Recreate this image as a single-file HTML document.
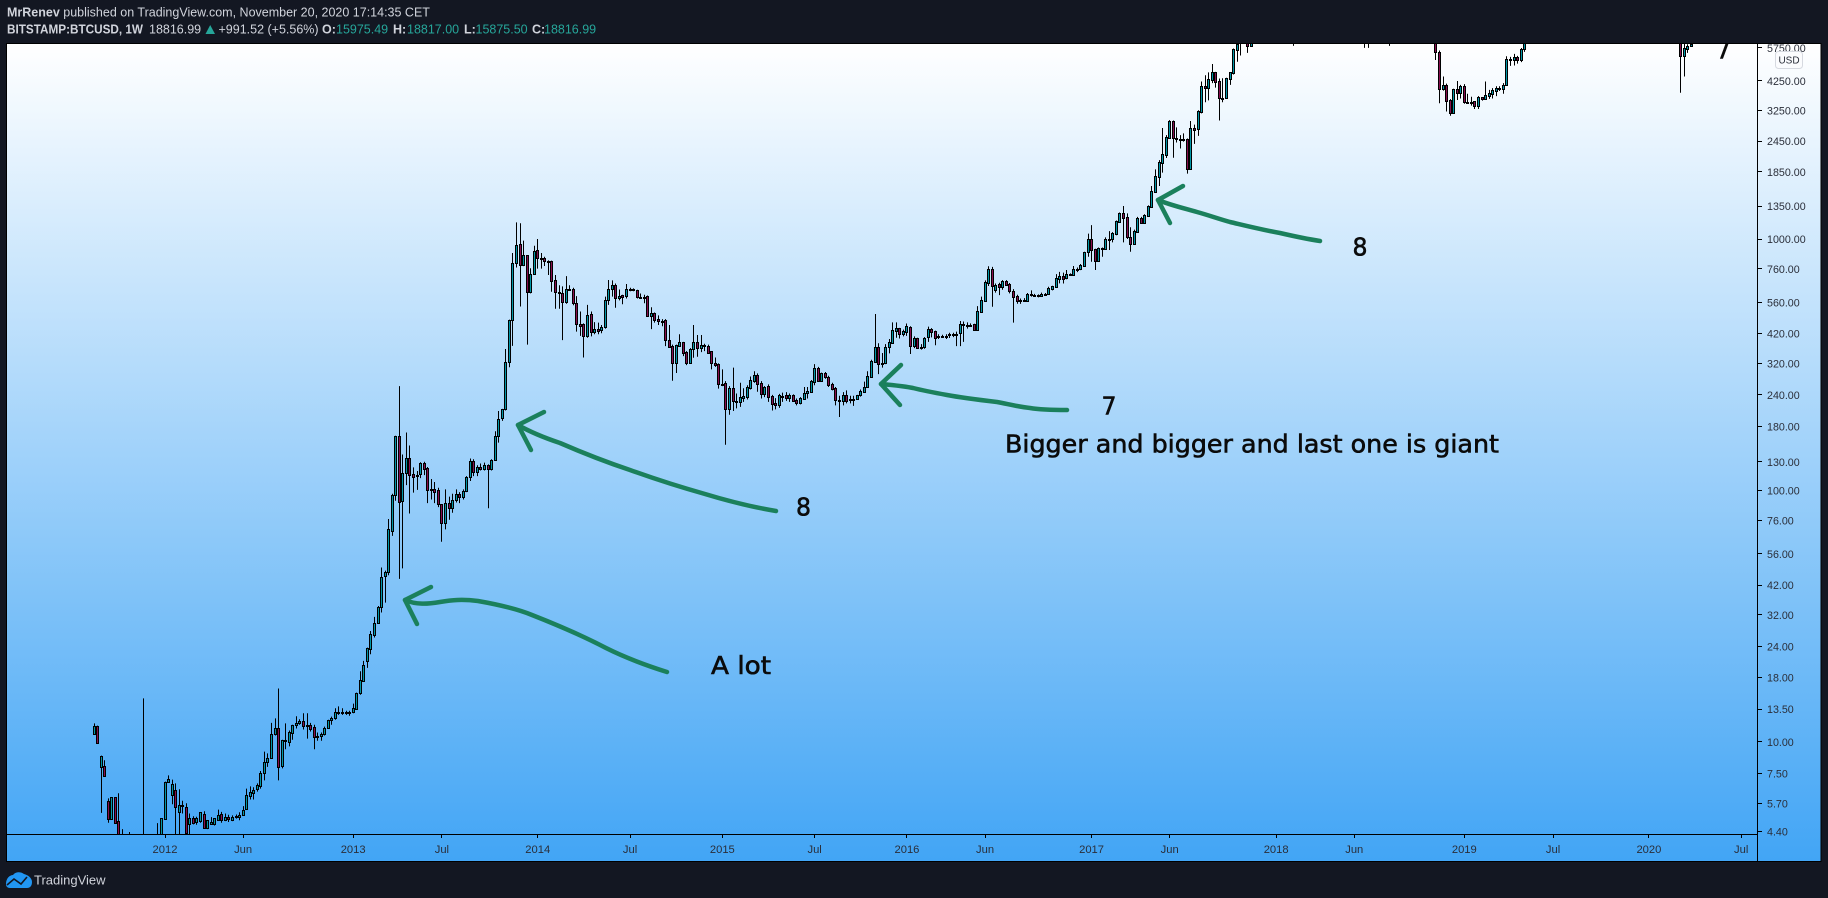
<!DOCTYPE html>
<html lang="en">
<head>
<meta charset="utf-8">
<title>BITSTAMP:BTCUSD 1W chart by MrRenev</title>
<style>
html,body{margin:0;padding:0;background:#131722;width:1828px;height:898px;overflow:hidden}
svg{display:block}
.hd{font:12.5px "Liberation Sans",sans-serif;fill:#d1d4dc}
.b{font-weight:bold}
.val{fill:#26a69a}
.yl{font:10.7px "Liberation Sans",sans-serif;fill:#2a2e39}
.xl{font:11.2px "Liberation Sans",sans-serif;fill:#2a2e39;text-anchor:middle}
.note{font-family:"DejaVu Sans","Liberation Sans",sans-serif;fill:#0b0b0b;stroke:#0b0b0b;stroke-width:.6px}
.arrow{fill:none;stroke:#1b805c;stroke-width:4.5;stroke-linecap:round;stroke-linejoin:round}
</style>
</head>
<body>
<svg id="chart" xmlns="http://www.w3.org/2000/svg" width="1828" height="898" viewBox="0 0 1828 898">
  <defs>
    <linearGradient id="bg" gradientUnits="userSpaceOnUse" x1="0" y1="43" x2="0" y2="861">
      <stop offset="0" stop-color="#ffffff"/>
      <stop offset="1" stop-color="#42a5f5"/>
    </linearGradient>
    <clipPath id="plotClip"><rect x="7" y="44" width="1750" height="790"/></clipPath>
  </defs>

  <rect x="0" y="0" width="1828" height="898" fill="#131722"/>
  <rect x="6.5" y="43.5" width="1814.5" height="818" fill="url(#bg)" stroke="#000" stroke-width="1"/>

  <g>
    <text class="hd" x="7" y="16.5"><tspan class="b">MrRenev</tspan> published on TradingView.com, November 20, 2020 17:14:35 CET</text>
    <text class="hd b" x="7" y="33.5" textLength="136" lengthAdjust="spacingAndGlyphs">BITSTAMP:BTCUSD, 1W</text>
    <text class="hd" x="149" y="33.5">18816.99</text>
    <polygon points="205.5,34 215,34 210.2,25" fill="#26a69a"/>
    <text class="hd" x="218.5" y="33.5">+991.52 (+5.56%)</text>
    <text class="hd b" x="322" y="33.5">O:</text>
    <text class="hd val" x="336" y="33.5">15975.49</text>
    <text class="hd b" x="393" y="33.5">H:</text>
    <text class="hd val" x="407" y="33.5">18817.00</text>
    <text class="hd b" x="464" y="33.5">L:</text>
    <text class="hd val" x="475.5" y="33.5">15875.50</text>
    <text class="hd b" x="532" y="33.5">C:</text>
    <text class="hd val" x="544" y="33.5">18816.99</text>
  </g>

  <g id="candles" clip-path="url(#plotClip)"></g>

  <g id="yAxis"></g>
  <g id="xAxis"></g>
  <line x1="1757.5" y1="44" x2="1757.5" y2="861" stroke="#000"/>
  <line x1="7" y1="834.5" x2="1757" y2="834.5" stroke="#000"/>

  <g>
    <rect x="1775.5" y="51.5" width="27" height="17" rx="3" fill="#fbfcfe" stroke="#d6d9e0"/>
    <text x="1789" y="63.5" text-anchor="middle" style="font:10px 'Liberation Sans',sans-serif;fill:#2a2e39">USD</text>
  </g>

  <g clip-path="url(#plotClip)">
    <g>
      <path class="arrow" d="M405 600 C416 605 428 604 440 602 C452 600 462 599 478 601 C495 604 515 608 532 615 C560 626 585 637 606 648 C628 659 648 666 667 672"/>
      <path class="arrow" d="M431 587 L405 600 L417 624"/>
    </g>
    <g>
      <path class="arrow" d="M518 425 C532 433 545 438 560 443 C583 453 606 462 630 470 C655 479 680 487 705 494 C728 501 752 507 776 511"/>
      <path class="arrow" d="M544 412 L518 425 L531 450"/>
    </g>
    <g>
      <path class="arrow" d="M881 384 C892 385 903 386 913 388 C925 391 936 393 947 395 C963 398 980 400 997 402 C1008 404 1019 407 1030 408 C1042 410 1055 410 1067 410"/>
      <path class="arrow" d="M901 365 L881 384 L900 405"/>
    </g>
    <g>
      <path class="arrow" d="M1158 200 C1170 205 1183 208 1197 212 C1208 215 1219 219 1230 222 C1247 226 1263 230 1280 233 C1293 236 1307 239 1320 241"/>
      <path class="arrow" d="M1183 186 L1158 200 L1170 223"/>
    </g>
    <text class="note" x="711" y="674" font-size="25" textLength="60" lengthAdjust="spacingAndGlyphs">A lot</text>
    <text class="note" x="796" y="515.5" font-size="25" textLength="15" lengthAdjust="spacingAndGlyphs">8</text>
    <text class="note" x="1101.5" y="414.7" font-size="25" textLength="15" lengthAdjust="spacingAndGlyphs">7</text>
    <text class="note" x="1005" y="452.3" font-size="25" textLength="494" lengthAdjust="spacingAndGlyphs">Bigger and bigger and last one is giant</text>
    <text class="note" x="1352.5" y="255.5" font-size="25" textLength="15" lengthAdjust="spacingAndGlyphs">8</text>
    <text class="note" x="1716" y="58.7" font-size="25" textLength="15" lengthAdjust="spacingAndGlyphs">7</text>
  </g>

  <g>
    <path d="M6 884 C6 878 10 875 13 875 C15 872 20 871 24 874 C28 875 32 878 32 882 C32 886 30 888 27 888 L10 888 C7 888 6 886 6 884 Z" fill="#2196f3"/>
    <path d="M7 885 L14 879 L21 884 L27 877" fill="none" stroke="#131722" stroke-width="1.6"/>
    <text x="34" y="884.5" style="font:13px 'Liberation Sans',sans-serif;fill:#d1d4dc">TradingView</text>
  </g>
</svg>

<script>
// Weekly bars; first bar is the week of 2011-08-15. Ten bars per row.
const firstWeek = '2011-08-15';
const opens = [
10.75,11.6,7.95,8,5.81,4.92,6.01,4.83,3.9,3.2,
3,2.9,2.6,2.5,3.1,2.9,2.8,2.6,3.2,3.5,
4.95,6.9,6.17,6.46,5.27,5.63,5.49,4.7,4.97,4.79,
4.83,5.19,4.55,4.73,4.7,4.91,5.19,4.91,5.02,4.91,
5.02,5.04,5.14,5.42,6.1,6.26,6.5,6.7,7.55,8.32,
8.66,10.7,11.4,8.03,10.2,10,10.8,11.7,11.9,12.15,
11.6,11.7,11.45,10.5,10.55,10.7,11.4,12.25,12.4,13.2,
13.15,13.05,13,13.1,13.5,15.6,17.5,20.9,23.5,26.7,
29.6,34.4,45.7,47.2,69,96.1,164,90.5,117,135,
116,115,116,129,122.5,100,101,100,88,74,
89,85,91.7,97,94,99.5,113,131,118,124,
122,126.5,122,132.5,165,195,210,323,476,800,
952,788,864,613,726,904,842,838,815,815,
685,617,608,561,634,630,555,458,459,412,
502,428,438,436,445,570,630,655,585,597,
595,630,634,625,590,590,592,495,507,480,
474,476,398,375,322,376,388,355,322,364,
388,367,378,375,357,320,318,265,268,211,
255,226,224,233,235,256,273,288,268,241,
260,237,222,218,238,239,233,239,229,222,
232,244,247,271,308,273,292,283,264,255,
229,227,239,228,232,232,239,247,259,283,
324,371,320,322,371,387,431,441,419,428,
447,375,403,368,372,407,437,429,406,413,
408,414,420,416,424,458,454,457,458,436,
514,569,666,758,627,660,646,678,660,621,
592,566,574,569,604,600,598,595,607,607,
634,646,695,711,698,724,721,758,760,783,
885,997,912,819,918,910,1003,997,1047,1169,
1265,1220,1015,958,1070,1208,1161,1238,1345,1544,
1769,2012,2165,2530,2945,2520,2490,2500,2500,1905,
2755,2730,3205,4060,3990,4290,4600,4250,3650,3650,
4340,4580,5670,6000,6200,6300,5830,8000,9300,11300,
15000,19000,14000,13800,16000,13500,11500,11000,8300,8200,
10300,9600,11400,9500,8500,8500,7000,7000,8000,8900,
9300,9600,8700,8100,7350,7700,6700,6450,6200,6380,
6700,6250,7400,8200,7000,6300,6400,6700,7000,6200,
6500,6700,6600,6400,6450,6300,6400,6400,6350,5560,
3940,4100,3555,3180,3940,3820,4060,3520,3490,3530,
3380,3660,3610,3720,3770,3880,3980,3950,4080,5200,
5130,5290,5130,5700,7250,8200,8700,8550,7950,8950,
10800,10900,11300,10200,10700,9500,10500,11300,10300,10100,
10500,10300,10300,10000,8000,8100,8300,8200,9200,9200,
8700,7300,7300,7500,7100,6900,7250,7200,8000,8600,
8900,8400,9300,9900,9900,8600,8900,8000,5320,5700,
5850,6300,6800,7000,7100,7700,8800,8700,9700,9700,
8900,9500,9700,9400,9300,9000,9200,9100,9200
];
const highs = [
11.85,11.6,8.82,8.45,5.96,6.01,6.01,6.25,4.5,3.4,
4.38,3.2,3.1,3.4,14.9,3.3,3.2,3.4,4.75,4.97,
6.95,7.36,7.08,6.84,6.48,5.83,5.7,5.19,5.06,5.04,
5.24,5.3,4.87,5.02,4.97,5.38,5.27,5.19,5.13,5.1,
5.14,5.25,5.55,6.52,6.65,6.6,6.84,7.66,9.15,9,
11.9,12.4,16.3,10.2,11.85,11.1,11.7,12.65,12.3,13,
13,11.9,11.7,10.9,10.9,11.5,12.25,12.6,13.6,13.85,
13.6,13.3,13.3,14.2,15.7,19.1,21,23.7,27.6,31.4,
34.7,49.4,48,77,97,165,260,139,170,151,
123.5,119.5,129.5,130,124,111,108,102.5,88,101,
94.5,97,101,98.5,101,114,134,133,126,128,
129,127,133,172,207,211,365,478,880,1165,
1155,985,864,765,940,1000,880,850,822,820,
719,655,648,712,655,640,593,515,462,547,
515,467,465,455,590,687,685,665,630,600,
662,640,636,628,607,600,596,535,510,497,
480,480,455,380,380,418,390,358,368,455,
415,415,383,380,358,338,320,303,272,260,
308,243,268,255,262,284,298,292,272,260,
264,240,233,242,245,246,243,241,232,235,
258,258,275,318,310,294,296,286,268,258,
238,246,250,238,238,240,252,271,298,331,
503,385,352,382,400,466,466,443,436,461,
450,410,405,382,407,448,442,432,418,416,
418,424,424,428,472,470,466,462,460,541,
590,685,779,775,665,670,686,686,668,632,
600,580,582,610,625,605,602,612,610,646,
652,725,740,735,753,730,781,770,795,890,
1050,1136,915,925,925,1015,1075,1065,1185,1275,
1353,1265,1113,1090,1225,1225,1255,1360,1624,1893,
2060,2765,2590,2970,2960,2780,2590,2630,2510,2945,
2850,3250,4230,4480,4600,4965,4620,4350,4360,4380,
4610,5720,6100,6500,6400,6700,8050,9300,11800,16500,
19600,19500,16500,17400,16500,14000,12000,11700,8900,11000,
11700,11700,11700,9900,9200,8700,7500,8500,9000,9800,
9900,9700,8800,8200,7750,7750,6800,6800,6500,6800,
6800,7700,8500,8300,7200,6600,6900,7100,7400,6600,
6800,6800,6700,6600,6700,6500,6600,6550,6400,5620,
4430,4150,3600,3960,4250,4100,4130,3780,3680,3540,
3700,3670,4230,3920,3980,4050,4050,4170,5330,5300,
5450,5350,5750,7450,8300,8900,9100,8700,9300,11200,
13800,12000,13100,11100,10700,10900,12300,11500,10900,10600,
10950,10400,10800,10100,8400,8500,8700,10400,9500,9400,
8800,7700,7900,7700,7250,7600,7400,8200,8700,9200,
8900,9500,10000,10500,10300,9200,9200,8170,6400,5950,
6100,7200,7200,7700,7800,9400,10000,9900,10000,9900,
9600,10400,10000,9700,9500,9300,9300,9500,9400
];
const lows = [
10.75,9.9,5.22,7.31,4.77,4.92,4.77,3.7,3,2.6,
2.5,2.5,2.3,2.2,2.2,2.5,2.4,2.4,3,3.4,
4.89,6.9,5.65,4.1,4.1,5.19,4.25,4.25,4.7,4.68,
4.77,4.53,4.5,4.7,4.65,4.87,4.77,4.84,4.8,4.84,
4.95,4.88,5.08,5.38,5.9,5.9,6.34,6.52,7.03,7.95,
8.6,10.6,7.03,7.85,9.35,9.6,10.2,11.3,11.7,11.2,
10.3,11,9.35,10.1,10.1,10.6,11.4,11.7,12.25,12.8,
12.8,12.8,12.7,13,13.4,15.4,17.4,19.7,22.3,26,
29.6,32.7,35.8,46,66,91,44.5,49,105,81,
98,100.5,112,115,89,92,89,85.8,62.5,70,
76.5,81.5,89.5,89,92,98.5,109,114,114,120,
120,85,120,132,155,189,208,309,376,770,
539,780,380,608,720,762,762,781,719,617,
528,528,396,553,625,545,428,412,338,405,
410,418,418,422,440,547,590,533,570,550,
580,620,620,580,577,555,490,438,465,455,
450,375,370,273,293,372,342,315,320,337,
340,355,358,350,303,310,254,260,152,200,
207,212,215,225,230,252,268,247,232,235,
225,208,210,213,225,227,225,227,218,220,
230,232,245,262,270,270,278,258,250,218,
196,218,222,222,217,231,236,245,259,280,
322,290,308,318,351,383,405,402,410,412,
349,368,365,363,366,390,406,378,400,404,
400,404,407,375,375,390,440,450,432,432,
510,562,650,538,612,598,628,650,608,465,
553,552,562,562,590,595,586,592,600,602,
625,642,666,665,692,715,715,738,752,775,
850,812,753,810,850,905,904,970,1035,1160,
970,1000,890,950,1065,1155,1150,1230,1335,1535,
1624,1836,2100,2520,2105,2420,2290,2440,1820,1900,
2390,2570,3160,3500,3560,4170,4000,2960,3500,3620,
4100,4510,5070,5370,6100,5500,5830,7900,9000,10800,
14500,12500,12000,13000,12500,9000,10000,7800,5860,8000,
9300,9400,8400,7300,8200,6600,6500,6600,7800,8600,
8900,8300,7900,7200,7000,6650,6300,6100,5755,5755,
6100,6200,7300,6900,6100,5860,6200,6100,6100,6100,
6100,6400,6200,6300,6100,6200,6250,6200,5150,3465,
3890,3215,3090,3170,3570,3620,3450,3470,3390,3290,
3290,3550,3570,3610,3620,3700,3880,3780,4060,4880,
4900,4980,5050,5550,6500,7500,8000,7450,7700,8950,
10400,9700,10200,9100,9100,9300,10500,9500,9700,9300,
9600,10000,9800,7900,7700,7800,7900,7300,8900,8500,
7100,6500,7100,7100,6500,6400,7000,6900,7700,8500,
8200,8300,9100,9500,8500,8400,7700,3815,4430,5500,
5800,6200,6500,6600,6800,7600,8200,8200,9000,8600,
8600,9300,9300,9000,8900,8900,8800,9000,9100
];
const closes = [
11.6,9.9,8.82,7.31,4.92,6.01,4.77,3.9,3.2,2.7,
2.9,2.6,2.5,3.1,2.9,2.8,2.6,3.2,3.5,4.97,
6.95,7.1,6.78,5.49,5.6,5.55,4.35,4.97,4.77,4.97,
5.24,4.53,4.87,4.79,4.97,5.14,4.87,5.04,4.93,5.02,
5.08,5.14,5.38,6.17,6.34,6.46,6.72,7.55,8.35,8.66,
10.7,11.4,7.95,10.2,10.1,10.9,11.7,11.9,12.15,11.6,
11.7,11.25,10.45,10.6,10.75,11.4,12.25,12.4,13.2,13.15,
13.05,13.15,13.15,13.6,15.6,17.6,20.2,23.6,26.9,29.6,
34.4,45.2,47.3,70.3,96.1,164,90,117,135,115,
113,114,129,122,100,101,98.5,88,74,89,
85,91.7,97,94,99.5,113,131,118,124,122,
126.5,122,132.5,165,193,210,323,476,800,946,
788,864,613,726,898,842,835,815,810,683,
617,608,560,634,628,558,458,452,412,497,
428,438,432,445,570,630,655,585,595,590,
630,634,625,587,585,582,495,507,476,473,
470,398,373,322,378,388,352,322,364,388,
367,378,375,352,320,315,264,262,211,255,
226,224,235,237,258,275,288,266,241,258,
235,221,218,240,236,233,239,227,222,233,
244,249,272,308,272,292,282,262,253,228,
227,239,227,232,231,239,248,259,284,326,
371,318,317,371,390,433,441,420,429,449,
375,403,368,372,403,438,428,405,413,408,
413,420,416,420,459,454,457,455,436,516,
571,674,758,652,656,644,678,658,621,589,
565,574,570,604,600,598,595,607,603,638,
649,698,711,695,724,720,758,762,785,885,
997,904,819,918,912,1003,995,1056,1176,1265,
1215,1015,958,1075,1208,1161,1245,1349,1548,1776,
2020,2170,2546,2945,2520,2490,2500,2490,1905,2755,
2720,3220,4060,4000,4320,4600,4230,3650,3620,4360,
4600,5700,5960,6200,6300,5830,8000,9300,11300,15000,
19000,14000,13800,16000,13500,11500,11000,8300,8200,10300,
9600,11400,9500,8500,8500,7000,7000,8000,8900,9300,
9600,8700,8100,7350,7700,6700,6450,6200,6380,6700,
6250,7400,8200,7000,6300,6400,6700,7000,6200,6500,
6700,6600,6400,6450,6300,6400,6400,6350,5560,3940,
4100,3535,3180,3940,3820,4060,3500,3490,3520,3380,
3660,3610,3740,3820,3910,3980,3970,4100,5200,5150,
5290,5130,5700,7250,8200,8700,8550,7950,8950,10800,
10900,11300,10200,10700,9500,10500,11300,10300,10100,10500,
10300,10300,10000,8000,8100,8300,8200,9200,9200,8700,
7300,7300,7500,7100,6900,7250,7200,8000,8600,8900,
8400,9300,9900,9900,8600,8900,8000,5320,5770,5830,
5960,6800,7000,7100,7700,8800,8700,9700,9700,8900,
9500,9700,9400,9300,9000,9200,9100,9200,9300
];
const priceTicks = [5750,4250,3250,2450,1850,1350,1000,760,560,420,320,240,180,130,100,76,56,42,32,24,18,13.5,10,7.5,5.7,4.4];
const timeTickLabels = ['2012','Jun','2013','Jul','2014','Jul','2015','Jul','2016','Jun','2017','Jun','2018','Jun','2019','Jul','2020','Jul'];
const timeTickDates = ['2012-01-02','2012-06-04','2013-01-07','2013-07-01','2014-01-06','2014-07-07','2015-01-05','2015-07-06','2016-01-04','2016-06-06','2017-01-02','2017-06-05','2018-01-01','2018-06-04','2019-01-07','2019-07-01','2020-01-06','2020-07-06'];

const SVG_NS = 'http://www.w3.org/2000/svg';
const WEEK_MS = 7 * 24 * 3600 * 1000;
const X_ORIGIN_MS = Date.UTC(2012, 0, 2);

// Time axis: 3.55 px per week, anchored on the 2012 tick.
function xOfWeeks(weeks) { return 165 + 3.55 * weeks; }
function xOfDate(dateStr) { return xOfWeeks((Date.parse(dateStr + 'T00:00:00Z') - X_ORIGIN_MS) / WEEK_MS); }
// Price axis: logarithmic, anchored on the 1000.00 tick.
function yOfPrice(price) { return 239 - 109.2 * Math.log(price / 1000); }
function snap(v) { return Math.floor(v) + 0.5; }

function make(tag, attrs) {
  const el = document.createElementNS(SVG_NS, tag);
  for (const k in attrs) el.setAttribute(k, attrs[k]);
  return el;
}

const candleLayer = document.getElementById('candles');
const firstX = xOfDate(firstWeek);
closes.forEach(function (close, i) {
  const open = opens[i];
  const up = close >= open;
  const cx = snap(firstX + 3.55 * i);
  const bodyTop = Math.round(yOfPrice(Math.max(open, close))) + 0.5;
  const bodyBottom = Math.round(yOfPrice(Math.min(open, close))) + 0.5;
  const group = make('g', {});
  
  
  const wick = make('line', {x1: cx, x2: cx, y1: yOfPrice(highs[i]), y2: yOfPrice(lows[i]), stroke: '#000', 'stroke-width': 1});
  
  
  const body = make('rect', {x: cx - 1, y: bodyTop, width: 2, height: Math.max(1, bodyBottom - bodyTop), fill: up ? '#0097a7' : '#880e4f', stroke: '#000', 'stroke-width': 1});
  
  
  group.appendChild(wick);
  group.appendChild(body);
  candleLayer.appendChild(group);
});

const yAxisLayer = document.getElementById('yAxis');
priceTicks.forEach(function (price) {
  const y = yOfPrice(price);
  const tick = make('line', {x1: 1757, x2: 1762, y1: snap(y), y2: snap(y), stroke: '#000'});
  
  
  const label = make('text', {x: 1767, y: y + 4, 'class': 'yl'});
  
  
  label.textContent = price.toFixed(2);
  yAxisLayer.appendChild(tick);
  yAxisLayer.appendChild(label);
});

const xAxisLayer = document.getElementById('xAxis');
timeTickLabels.forEach(function (text, i) {
  const x = xOfDate(timeTickDates[i]);
  const tick = make('line', {x1: snap(x), x2: snap(x), y1: 834, y2: 838, stroke: '#000'});
  
  
  const label = make('text', {x: x, y: 853, 'class': 'xl'});
  
  
  label.textContent = text;
  xAxisLayer.appendChild(tick);
  xAxisLayer.appendChild(label);
});
</script>
</body>
</html>
